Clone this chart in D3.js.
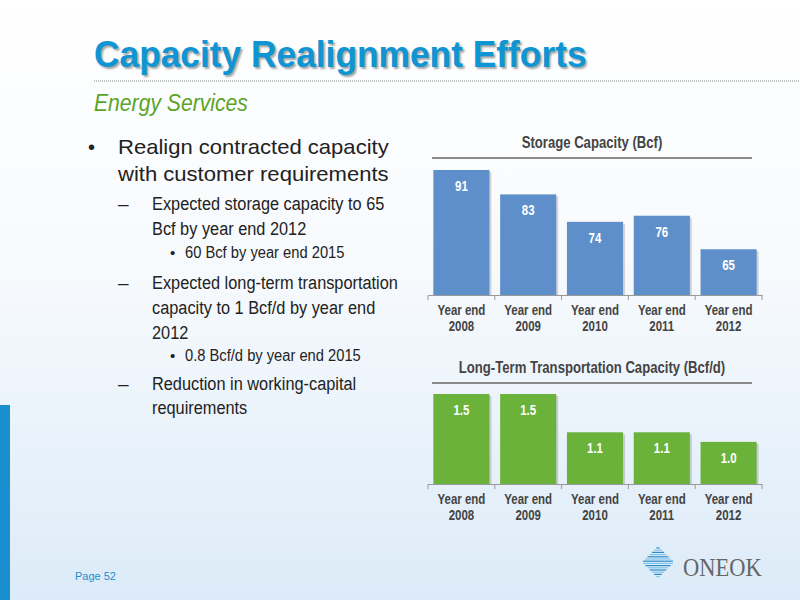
<!DOCTYPE html><html><head><script src="https://cdn.jsdelivr.net/npm/d3@7"></script>
<style>body{margin:0}svg{display:block}</style></head><body><svg id="s" width="800" height="600"></svg>
<script>
const categories=["Year end 2008","Year end 2009","Year end 2010","Year end 2011","Year end 2012"];
const storage=[91,83,74,76,65];
const transport=[1.5,1.5,1.1,1.1,1.0];
const transportLabels=["1.5","1.5","1.1","1.1","1.0"];
const svg=d3.select("#s");
const defs=svg.append("defs");
const g=defs.append("linearGradient").attr("id","bg").attr("x1",0).attr("y1",0).attr("x2",0).attr("y2",1);
g.append("stop").attr("offset",0).attr("stop-color","#ffffff");
g.append("stop").attr("offset",0.45).attr("stop-color","#f7fafd");
g.append("stop").attr("offset",1).attr("stop-color","#dcebf8");
svg.append("rect").attr("width",800).attr("height",600).attr("fill","url(#bg)");
svg.append("rect").attr("x",0).attr("y",405).attr("width",10).attr("height",195).attr("fill","#1a8fd0");
const F="Liberation Sans, Arial, sans-serif";
const N=0.82;
function nt(x,y,t,o){const e=svg.append("text").attr("transform",`translate(${x},${y}) scale(${o.sx||N},1)`).attr("font-family",F).attr("font-size",o.size).attr("fill",o.fill||"#222").text(t);
 if(o.bold)e.attr("font-weight","bold");if(o.anchor)e.attr("text-anchor",o.anchor);if(o.style)e.attr("style",o.style);if(o.italic)e.attr("font-style","italic");return e;}
nt(94,67,"Capacity Realignment Efforts",{size:37,sx:0.955,bold:true,fill:"#0f95d3",style:"text-shadow:2px 2px 2px rgba(0,0,0,0.35)"});
svg.append("line").attr("x1",94).attr("x2",800).attr("y1",81).attr("y2",81).attr("stroke","#888").attr("stroke-dasharray","1,1");
nt(94,111,"Energy Services",{size:23,sx:0.92,italic:true,fill:"#5aa427"});
const lines=[
 [88,154,"•",20,1],[118,154,"Realign contracted capacity",21,1.05],[118,181,"with customer requirements",21,1.05],
 [118,210,"–",19,1],[152,210,"Expected storage capacity to 65",19,0.86],[152,235,"Bcf by year end 2012",19,0.86],
 [170,258,"•",15,1],[185,258,"60 Bcf by year end 2015",16,0.92],
 [118,289,"–",19,1],[152,289,"Expected long-term transportation",19,0.86],[152,314,"capacity to 1 Bcf/d by year end",19,0.86],[152,339,"2012",19,0.86],
 [170,361,"•",15,1],[185,361,"0.8 Bcf/d by year end 2015",16,0.92],
 [118,390,"–",19,1],[152,390,"Reduction in working-capital",19,0.86],[152,414,"requirements",19,0.86]];
lines.forEach(([x,y,t,s,sx])=>nt(x,y,t,{size:s,sx:sx}));
svg.append("text").attr("x",75).attr("y",580).attr("font-family",F).attr("font-size",11).attr("fill","#1a8fd0").text("Page 52");
const lg=svg.append("g");
for(let i=0;i<14;i++){const y=548+i*2.2;const w=16-Math.abs(i-6.5)*2.2;lg.append("line").attr("x1",658-w).attr("x2",658+w).attr("y1",y).attr("y2",y).attr("stroke",i%2?"#7fc4e8":"#2a8cc8").attr("stroke-width",1.2);}
nt(683,576,"ONEOK",{size:25,sx:0.9,fill:"#666"}).attr("font-family","Liberation Serif, serif");
function chart(vals,labels,y0,base,top,dom,color,title,tx,lx1,lx2){
 const x=d3.scaleBand().domain(categories).range([428,762]).paddingInner(0.16).paddingOuter(0.08);
 const y=d3.scaleLinear().domain(dom).range([base,top]);
 nt(tx,y0,title,{size:16,bold:true,anchor:"middle",fill:"#444"});
 svg.append("line").attr("x1",lx1).attr("x2",lx2).attr("y1",y0+10).attr("y2",y0+10).attr("stroke","#666").attr("stroke-width",1.5);
 categories.forEach((c,i)=>{
  svg.append("rect").attr("x",x(c)+2).attr("y",y(vals[i])+2).attr("width",x.bandwidth()).attr("height",base-y(vals[i])-2).attr("fill","rgba(0,0,0,0.15)");
  svg.append("rect").attr("x",x(c)).attr("y",y(vals[i])).attr("width",x.bandwidth()).attr("height",base-y(vals[i])).attr("fill",color);
  nt(x(c)+x.bandwidth()/2,y(vals[i])+21,labels[i],{size:14,bold:true,anchor:"middle",fill:"#fff"});
 });
 const ax=svg.append("g").attr("transform",`translate(0,${base})`).call(d3.axisBottom(x).tickSize(0).tickFormat(""));
 ax.select(".domain").attr("stroke","#999");
 d3.range(6).forEach(k=>{const xx=428+k*(334/5);svg.append("line").attr("x1",xx).attr("x2",xx).attr("y1",base).attr("y2",base+5).attr("stroke","#999");});
 categories.forEach(c=>{const p=c.split(" ");const cx=x(c)+x.bandwidth()/2;
  nt(cx,base+20,p[0]+" "+p[1],{size:14,bold:true,anchor:"middle",fill:"#444"});
  nt(cx,base+36,p[2],{size:14,bold:true,anchor:"middle",fill:"#444"});});
}
chart(storage,storage.map(String),148,295,170,[50,91],"#5f8fcb","Storage Capacity (Bcf)",592,432,752);
chart(transport,transportLabels,373,484,394,[0.56,1.5],"#6ab23a","Long-Term Transportation Capacity (Bcf/d)",592,432,752);
</script></body></html>
